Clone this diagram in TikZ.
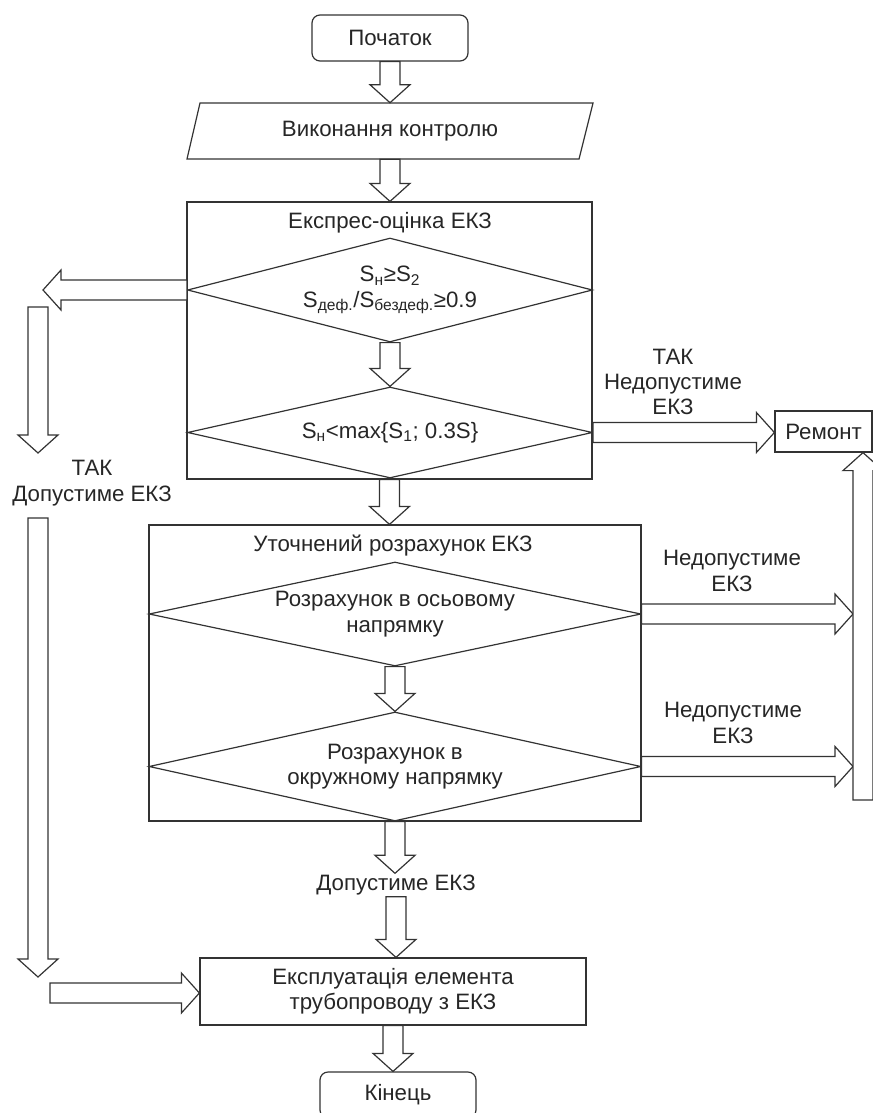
\documentclass[tikz,border=0pt]{standalone}
\usepackage{fontspec}
\setmainfont{Liberation Sans}
\usetikzlibrary{calc,shapes.geometric}

\tikzset{
  outl/.style={draw=black!80, line width=0.9pt},
  blkarrow/.style={outl, fill=white, line join=miter},
  box/.style={outl, rectangle, inner sep=0pt},
  term/.style={outl, rectangle, rounded corners=6pt, minimum width=156*0.75pt, minimum height=46*0.75pt},
  cond/.style={outl, diamond, inner sep=0pt, align=center, shape aspect=4.4},
  lbl/.style={align=center, inner sep=1pt},
}

% hollow block arrows, tip at the second point (axis aligned)
\newcommand{\blkdown}[2]{%
  \draw[blkarrow] ($(#1)+(-10,0)$) -- ($(#1 |- #2)+(-10,-18)$) -- ($(#1 |- #2)+(-20,-18)$)
    -- (#1 |- #2) -- ($(#1 |- #2)+(20,-18)$) -- ($(#1 |- #2)+(10,-18)$) -- ($(#1)+(10,0)$) -- cycle;}
\newcommand{\blkup}[2]{%
  \draw[blkarrow] ($(#1)+(-10,0)$) -- ($(#1 |- #2)+(-10,18)$) -- ($(#1 |- #2)+(-20,18)$)
    -- (#1 |- #2) -- ($(#1 |- #2)+(20,18)$) -- ($(#1 |- #2)+(10,18)$) -- ($(#1)+(10,0)$) -- cycle;}
\newcommand{\blkright}[2]{%
  \draw[blkarrow] ($(#1)+(0,-10)$) -- ($(#1 -| #2)+(-18,-10)$) -- ($(#1 -| #2)+(-18,-20)$)
    -- (#1 -| #2) -- ($(#1 -| #2)+(-18,20)$) -- ($(#1 -| #2)+(-18,10)$) -- ($(#1)+(0,10)$) -- cycle;}
\newcommand{\blkleft}[2]{%
  \draw[blkarrow] ($(#1)+(0,-10)$) -- ($(#1 -| #2)+(18,-10)$) -- ($(#1 -| #2)+(18,-20)$)
    -- (#1 -| #2) -- ($(#1 -| #2)+(18,20)$) -- ($(#1 -| #2)+(18,10)$) -- ($(#1)+(0,10)$) -- cycle;}

\begin{document}
\begin{tikzpicture}[x=0.75pt,y=0.75pt,yscale=-1,xscale=1,
  every node/.style={font=\fontsize{16.7}{19}\selectfont, text=black!85}]
\useasboundingbox (0,0) rectangle (873,1113);
\clip (0,0) rectangle (873,1113);

% Terminal
\node[term] (start) at (390,38) {Початок};

% Input (parallelogram)
\draw[outl] (200,103) -- (593,103) -- (579,159) -- (187,159) -- cycle;
\node[minimum height=56*0.75pt, inner sep=0pt] (ctrl) at (390,131) {Виконання контролю};

% Express estimate block
\node[box, minimum width=405*0.75pt, minimum height=277*0.75pt] (express) at (389.5,340.5) {};
\node (express-t) at (390,223) {Експрес-оцінка ЕКЗ};
\node[cond, shape aspect=3.9, minimum width=405*0.75pt, minimum height=104*0.75pt] (dia1) at (390,290)
  {S\textsubscript{н}≥S\textsubscript{2}\\S\textsubscript{деф.}/S\textsubscript{бездеф.}≥0.9};
\node[cond, minimum width=405*0.75pt, minimum height=91*0.75pt] (dia2) at (390,432.5)
  {S\textsubscript{н}<max\{S\textsubscript{1}; 0.3S\}};

% Refined calculation block
\node[box, minimum width=492*0.75pt, minimum height=296*0.75pt] (refined) at (395,673) {};
\node (refined-t) at (393,546) {Уточнений розрахунок ЕКЗ};
\node[cond, shape aspect=4.7, minimum width=492*0.75pt, minimum height=104*0.75pt] (dia3) at (395,614)
  {Розрахунок в осьовому\\напрямку};
\node[cond, shape aspect=4.5, minimum width=492*0.75pt, minimum height=109*0.75pt] (dia4) at (395,766.5)
  {Розрахунок в\\окружному напрямку};

% Repair
\node[box, minimum width=97*0.75pt, minimum height=41*0.75pt] (repair) at (823.5,431.5) {Ремонт};

% Exploitation and end
\node[lbl] (ok) at (396,885) {Допустиме ЕКЗ};
\node[box, align=center, minimum width=386*0.75pt, minimum height=67*0.75pt] (use) at (393,991.5)
  {Експлуатація елемента\\трубопроводу з ЕКЗ};
\node[term] (end) at (398,1095) {Кінець};

% Text Node
\node[lbl] (yes) at (92,483) {ТАК\\Допустиме ЕКЗ};
\node[lbl] (no1) at (673,382) {ТАК\\Недопустиме\\ЕКЗ};
\node[lbl] (no2) at (732,571) {Недопустиме\\ЕКЗ};
\node[lbl] (no3) at (733,723) {Недопустиме\\ЕКЗ};

% free ends of the block arrows
\coordinate (left-tip) at (43,290);
\coordinate (yes-a) at (38,307);
\coordinate (yes-b) at (38,453);
\coordinate (yes-c) at (38,518);
\coordinate (yes-d) at (38,977);
\coordinate (yes-e) at (50,993);
\coordinate (rep-a) at (863,800);
\coordinate (rep-l) at (853,800);

% Block arrows
\blkdown{start.south}{ctrl.north}
\blkdown{ctrl.south}{express.north}
\blkdown{dia1.south}{dia2.north}
\blkdown{express.south}{refined.north}
\blkdown{dia3.south}{dia4.north}
\blkdown{refined.south}{ok.north}
\blkdown{ok.south}{use.north}
\blkdown{use.south}{end.north}
\blkleft{dia1.west}{left-tip}
\blkdown{yes-a}{yes-b}
\blkdown{yes-c}{yes-d}
\blkright{yes-e}{use.west}
\blkright{dia2.east}{repair.west}
\blkright{dia3.east}{rep-l}
\blkright{dia4.east}{rep-l}
\blkup{rep-a}{repair.south}

\end{tikzpicture}
\end{document}
